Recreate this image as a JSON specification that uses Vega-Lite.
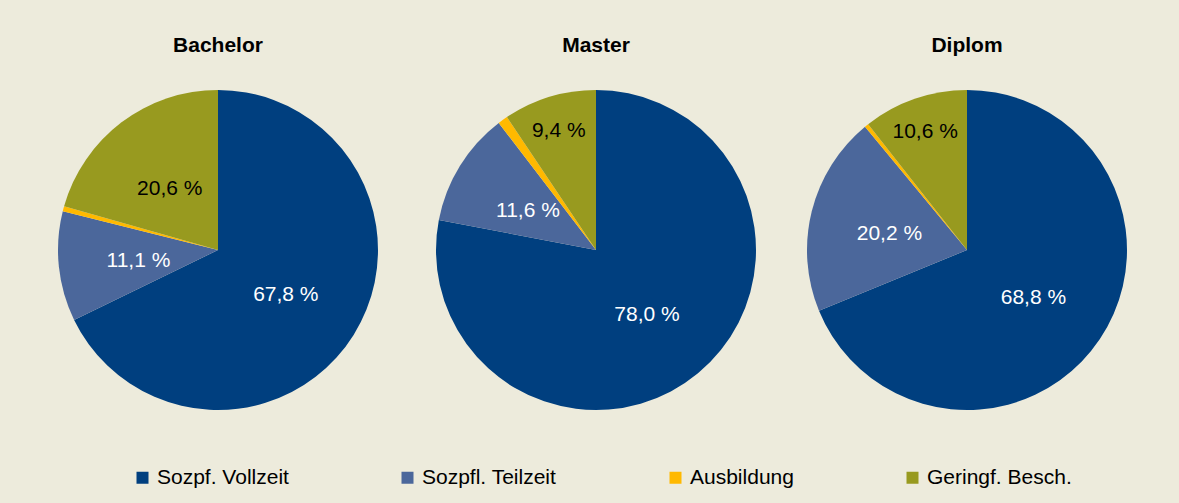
{
  "$schema": "https://vega.github.io/schema/vega-lite/v6.json",
  "background": "#EDEBDC",
  "padding": {"left": 51, "right": 52, "top": 35, "bottom": 16},
  "data": {"values": [
    {"Abschluss": "Bachelor", "Kategorie": "Sozpf. Vollzeit", "nr": 1, "Anteil": 67.8},
    {"Abschluss": "Bachelor", "Kategorie": "Sozpfl. Teilzeit", "nr": 2, "Anteil": 11.1},
    {"Abschluss": "Bachelor", "Kategorie": "Ausbildung", "nr": 3, "Anteil": 0.5},
    {"Abschluss": "Bachelor", "Kategorie": "Geringf. Besch.", "nr": 4, "Anteil": 20.6},
    {"Abschluss": "Master", "Kategorie": "Sozpf. Vollzeit", "nr": 1, "Anteil": 78.0},
    {"Abschluss": "Master", "Kategorie": "Sozpfl. Teilzeit", "nr": 2, "Anteil": 11.6},
    {"Abschluss": "Master", "Kategorie": "Ausbildung", "nr": 3, "Anteil": 1.0},
    {"Abschluss": "Master", "Kategorie": "Geringf. Besch.", "nr": 4, "Anteil": 9.4},
    {"Abschluss": "Diplom", "Kategorie": "Sozpf. Vollzeit", "nr": 1, "Anteil": 68.8},
    {"Abschluss": "Diplom", "Kategorie": "Sozpfl. Teilzeit", "nr": 2, "Anteil": 20.2},
    {"Abschluss": "Diplom", "Kategorie": "Ausbildung", "nr": 3, "Anteil": 0.4},
    {"Abschluss": "Diplom", "Kategorie": "Geringf. Besch.", "nr": 4, "Anteil": 10.6}
  ]},
  "spacing": 51,
  "hconcat": [
    {
      "title": {"text": "Bachelor"},
      "width": 334, "height": 320,
      "transform": [
        {"filter": "datum.Abschluss == 'Bachelor'"},
        {"calculate": "datum.Anteil < 2 ? '' : replace(format(datum.Anteil, '.1f'), '.', ',') + ' %'", "as": "label"}
      ],
      "layer": [
        {"mark": {"type": "arc", "outerRadius": 160},
         "encoding": {
           "theta": {"field": "Anteil", "type": "quantitative", "stack": true},
           "order": {"field": "nr", "type": "quantitative"},
           "color": {"field": "Kategorie", "type": "nominal",
             "scale": {"domain": ["Sozpf. Vollzeit", "Sozpfl. Teilzeit", "Ausbildung", "Geringf. Besch."], "range": ["#003F7F", "#4B679B", "#FFB900", "#989A1F"]},
             "legend": {"title": null}}
         }},
        {"mark": {"type": "text", "fontSize": 21, "font": "Liberation Sans", "dy": 3, "radius": {"expr": "datum.Anteil < 11 ? 128 : 80"}},
         "encoding": {
           "theta": {"field": "Anteil", "type": "quantitative", "stack": true},
           "order": {"field": "nr", "type": "quantitative"},
           "text": {"field": "label"},
           "color": {"condition": {"test": "datum.Kategorie == 'Geringf. Besch.'", "value": "#000000"}, "value": "#FFFFFF"}
         }}
      ]
    },
    {
      "title": {"text": "Master"},
      "width": 320, "height": 320,
      "transform": [
        {"filter": "datum.Abschluss == 'Master'"},
        {"calculate": "datum.Anteil < 2 ? '' : replace(format(datum.Anteil, '.1f'), '.', ',') + ' %'", "as": "label"}
      ],
      "layer": [
        {"mark": {"type": "arc", "outerRadius": 160},
         "encoding": {
           "theta": {"field": "Anteil", "type": "quantitative", "stack": true},
           "order": {"field": "nr", "type": "quantitative"},
           "color": {"field": "Kategorie", "type": "nominal",
             "scale": {"domain": ["Sozpf. Vollzeit", "Sozpfl. Teilzeit", "Ausbildung", "Geringf. Besch."], "range": ["#003F7F", "#4B679B", "#FFB900", "#989A1F"]},
             "legend": {"title": null}}
         }},
        {"mark": {"type": "text", "fontSize": 21, "font": "Liberation Sans", "dy": 3, "radius": {"expr": "datum.Anteil < 11 ? 128 : 80"}},
         "encoding": {
           "theta": {"field": "Anteil", "type": "quantitative", "stack": true},
           "order": {"field": "nr", "type": "quantitative"},
           "text": {"field": "label"},
           "color": {"condition": {"test": "datum.Kategorie == 'Geringf. Besch.'", "value": "#000000"}, "value": "#FFFFFF"}
         }}
      ]
    },
    {
      "title": {"text": "Diplom"},
      "width": 320, "height": 320,
      "transform": [
        {"filter": "datum.Abschluss == 'Diplom'"},
        {"calculate": "datum.Anteil < 2 ? '' : replace(format(datum.Anteil, '.1f'), '.', ',') + ' %'", "as": "label"}
      ],
      "layer": [
        {"mark": {"type": "arc", "outerRadius": 160},
         "encoding": {
           "theta": {"field": "Anteil", "type": "quantitative", "stack": true},
           "order": {"field": "nr", "type": "quantitative"},
           "color": {"field": "Kategorie", "type": "nominal",
             "scale": {"domain": ["Sozpf. Vollzeit", "Sozpfl. Teilzeit", "Ausbildung", "Geringf. Besch."], "range": ["#003F7F", "#4B679B", "#FFB900", "#989A1F"]},
             "legend": {"title": null}}
         }},
        {"mark": {"type": "text", "fontSize": 21, "font": "Liberation Sans", "dy": 3, "radius": {"expr": "datum.Anteil < 11 ? 128 : 80"}},
         "encoding": {
           "theta": {"field": "Anteil", "type": "quantitative", "stack": true},
           "order": {"field": "nr", "type": "quantitative"},
           "text": {"field": "label"},
           "color": {"condition": {"test": "datum.Kategorie == 'Geringf. Besch.'", "value": "#000000"}, "value": "#FFFFFF"}
         }}
      ]
    }
  ],
  "config": {
    "view": {"stroke": null},
    "font": "Liberation Sans",
    "title": {"font": "Liberation Sans", "fontSize": 21, "fontWeight": "bold", "color": "#000000", "anchor": "middle", "baseline": "alphabetic", "offset": 34},
    "legend": {
      "orient": "none", "legendX": 81, "legendY": 377,
      "direction": "horizontal", "columns": 4, "columnPadding": 108,
      "symbolType": "square", "symbolSize": 144, "symbolStrokeWidth": 0, "symbolOpacity": 1,
      "labelFontSize": 21, "labelFont": "Liberation Sans", "labelColor": "#000000",
      "labelLimit": 400, "labelOffset": 4, "padding": 0
    }
  }
}
